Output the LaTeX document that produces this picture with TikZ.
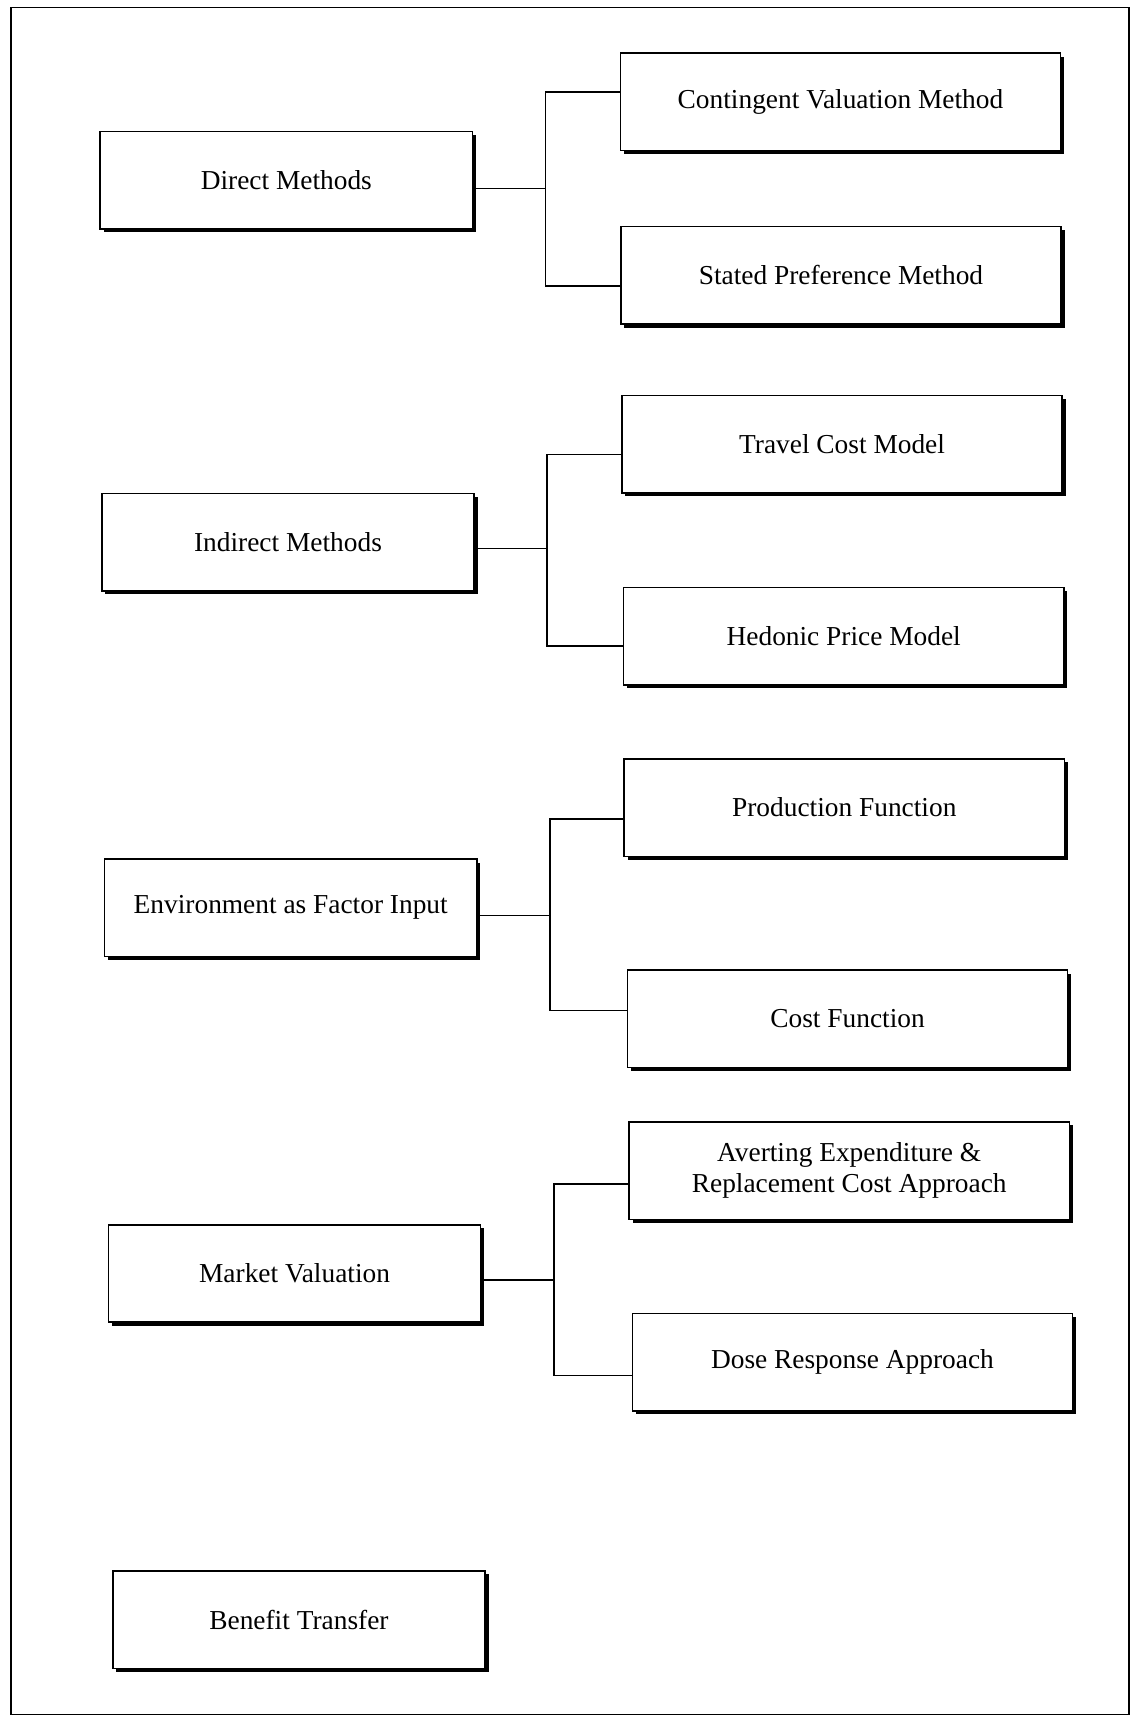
\documentclass[tikz,border=0pt]{standalone}
\usepackage{fontspec}
\setmainfont{Liberation Serif}
\usetikzlibrary{shadows}

\begin{document}
\begin{tikzpicture}[
  x=0.5pt, y=-0.5pt,
  every node/.style={font=\fontsize{12.5}{14}\selectfont},
  methodbox/.style={draw, line width=0.7pt, fill=white, inner sep=0pt,
    minimum height=44.5pt, align=center,
    drop shadow={shadow xshift=1.6pt, shadow yshift=-1.6pt, fill=black, opacity=1}},
  groupbox/.style={methodbox, minimum width=170pt},
  techbox/.style={methodbox, minimum width=201pt},
  ]
\useasboundingbox (0,0) rectangle (1039,1568);
\draw[line width=0.6pt] (10,7) rectangle (1031,1566);

% groups of methods
\node [groupbox] (direct)   at (261.5,164.5) {Direct Methods};
\node [groupbox] (indirect) at (263,495)     {Indirect Methods};
\node [groupbox] (envir)    at (265.5,829)   {Environment as Factor Input};
\node [groupbox] (market)   at (269,1163)    {Market Valuation};
\node [groupbox] (benefit)  at (273,1479)    {Benefit Transfer};

% techniques
\node [techbox] (cvm)    at (767.5,93)   {Contingent Valuation Method};
\node [techbox] (spm)    at (768,251.5)  {Stated Preference Method};
\node [techbox] (tcm)    at (769,405.5)  {Travel Cost Model};
\node [techbox] (hpm)    at (770.5,581)  {Hedonic Price Model};
\node [techbox] (prodf)  at (771,737.5)  {Production Function};
\node [techbox] (costf)  at (774,930.5)  {Cost Function};
\node [techbox] (avert)  at (775.5,1069) {Averting Expenditure \&\\Replacement Cost Approach};
\node [techbox] (dose)   at (778.5,1244) {Dose Response Approach};

\foreach \p/\ps/\c/\cs in {direct/-3.75/cvm/4.5, direct/-3.75/spm/-4.75,
    indirect/-3/tcm/-4.75, indirect/-3/hpm/-4.5,
    envir/-3.5/prodf/-5.25, envir/-3.5/costf/3.75,
    market/-3/avert/-6, market/-3/dose/-6} {
  \draw[line width=0.7pt] ([yshift=\ps pt]\p.east) -- ++(33pt,0) |- ([yshift=\cs pt]\c.west);
}
\end{tikzpicture}
\end{document}
